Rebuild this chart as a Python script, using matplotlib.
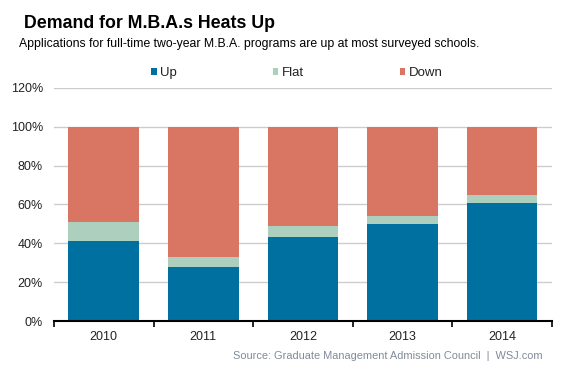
import matplotlib
matplotlib.use("Agg")
import matplotlib.pyplot as plt
import numpy as np

plt.rcParams['font.family'] = ['Liberation Sans', 'DejaVu Sans']

years = ["2010", "2011", "2012", "2013", "2014"]
up = [41, 28, 43, 50, 61]
flat = [10, 5, 6, 4, 4]
down = [49, 67, 51, 46, 35]

series_names = ["Up", "Flat", "Down"]
colors = ["#0070a0", "#acd0bd", "#d87563"]

fig = plt.figure(figsize=(5.69, 3.72), dpi=100)
ax = fig.add_axes([0.0949, 0.137, 0.875, 0.6267])

x = np.arange(len(years))
up_a = np.array(up)
flat_a = np.array(flat)
down_a = np.array(down)
h1 = ax.bar(x, up_a, width=0.71, color=colors[0], zorder=2, label=series_names[0])
h2 = ax.bar(x, flat_a, width=0.71, bottom=up_a, color=colors[1], zorder=2, label=series_names[1])
h3 = ax.bar(x, down_a, width=0.71, bottom=up_a + flat_a, color=colors[2], zorder=2, label=series_names[2])

ax.set_xlim(-0.5, len(years) - 0.5)
ax.set_ylim(0, 120)
ax.set_yticks(np.arange(0, 121, 20))
ax.set_yticklabels([f"{v}%" for v in range(0, 121, 20)], fontsize=9, color="#222222")
ax.tick_params(axis='y', length=0, pad=7.9)
ax.grid(axis='y', color="#cccccc", linewidth=1, zorder=0)

ax.set_xticks(x)
ax.set_xticklabels(years, fontsize=9, color="#222222")
ax.set_xticks(np.arange(-0.5, len(years), 1), minor=True)
ax.tick_params(axis='x', which='major', length=0, pad=7)
ax.tick_params(axis='x', which='minor', length=4, width=1.2, color='black', direction='out')

for s in ['top', 'right', 'left']:
    ax.spines[s].set_visible(False)
ax.spines['bottom'].set_color('black')
ax.spines['bottom'].set_linewidth(1.5)
ax.spines['bottom'].set_zorder(3)

leg = fig.legend(handles=[h1, h2, h3], labels=series_names, loc='center',
                 bbox_to_anchor=(0.522, 0.803), ncol=3, frameon=False,
                 fontsize=9.5, handlelength=0.4, handleheight=0.4, handletextpad=0.25,
                 columnspacing=7.3, labelcolor="#222222")

fig.text(0.042, 0.924, "Demand for M.B.A.s Heats Up", fontsize=12.8, fontweight='bold',
         ha='left', va='baseline', color='black')
fig.text(0.033, 0.8745, "Applications for full-time two-year M.B.A. programs are up at most surveyed schools.",
         fontsize=8.8, ha='left', va='baseline', color='black')
fig.text(0.954, 0.034, "Source: Graduate Management Admission Council  |  WSJ.com",
         fontsize=7.9, ha='right', va='baseline', color='#808b9a')

fig.savefig("out.png", dpi=100)
